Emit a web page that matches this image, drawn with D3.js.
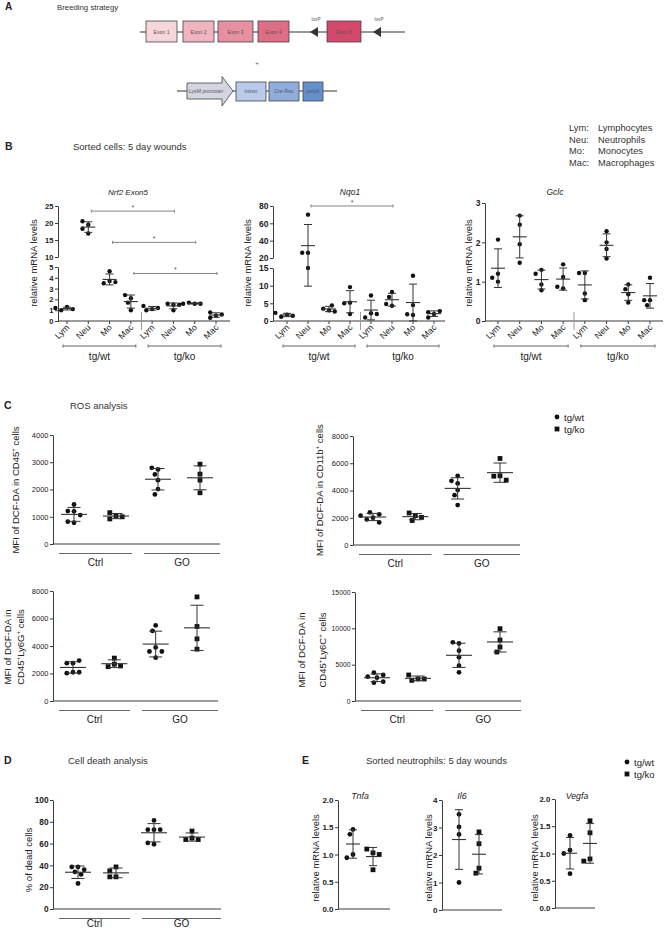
<!DOCTYPE html>
<html><head><meta charset="utf-8">
<script src="https://cdn.jsdelivr.net/npm/d3@7"></script>
<style>body{margin:0;background:#fff}svg{display:block}</style>
</head><body><svg id="fig" width="664" height="929"></svg>
<script>
// ---------------- DATA ----------------
const exonLabels = ["Exon 1","Exon 2","Exon 3","Exon 4","Exon 5"];
const creLabels = ["LysM promoter","intron","Cre-Rec","polyA"];
const cellTypes = ["Lym","Neu","Mo","Mac"];
const genotypes = ["tg/wt","tg/ko"];
const cellLegendAbbr = ["Lym:","Neu:","Mo:","Mac:"];
const cellLegendFull = ["Lymphocytes","Neutrophils","Monocytes","Macrophages"];
// order: tg/wt Lym, Neu, Mo, Mac, tg/ko Lym, Neu, Mo, Mac
const nrf2Exon5 = [[1.3,1.0,1.1,1.2],[19.5,20.5,18.3,16.9],[4.6,3.7,3.5,3.6],[2.1,2.4,1.7,1.0],
                   [1.1,1.0,1.2,1.4],[1.5,1.6,1.5,1.0],[1.6,1.7,1.6,1.6],[0.5,0.8,0.3,0.6]];
const nqo1 = [[1.8,1.2,1.5,2.3],[70,26,26,15],[3.0,3.5,4.4,2.7],[9.6,5.2,5.0,2.0],
              [7.2,2.2,1.0,2.0],[8.2,4.3,6.8,4.8],[12.8,4.5,1.7,1.9],[2.0,2.5,1.0,2.8]];
const gclc = [[2.07,1.0,1.1,1.2],[2.68,2.45,1.95,1.48],[1.3,1.2,0.78,0.93],[1.44,1.12,0.83,0.87],
              [1.22,1.22,0.7,0.53],[2.28,2.0,1.83,1.59],[0.93,0.81,0.68,0.47],[1.1,0.53,0.53,0.4]];
const nrf2TicksLow = [0,1,2,3,4,5], nrf2TicksHigh = [10,15,20,25];
const nqo1TicksLow = [0,5,10,15], nqo1TicksHigh = [20,40,60,80];
const gclcTicks = [0,1,2,3];
// significance brackets: [from index, to index, height value]
const nrf2Sig = [[1,5,23.5],[2,6,14.3],[3,7,4.4]];
const nqo1Sig = [[1,5,80]];

const treatments = ["Ctrl","GO"];
// order: Ctrl tg/wt, Ctrl tg/ko, GO tg/wt, GO tg/ko
const cd45 = [[1450,1200,1210,1060,780,820],[1030,920,1000,1150],[2735,2796,2552,2344,2015,1820],[2930,2564,2344,1880]];
const cd11b = [[2000,2390,1880,1660,2250,2150],[2150,2350,2030,1800],[5080,4520,4710,4030,3660,2930],[6350,5080,5050,4760]];
const ly6g = [[2750,2750,2940,2090,2020,2090],[3120,2680,2500,2550],[5500,5100,3900,3600,3600,3150],[7570,5420,4520,3770]];
const ly6c = [[3210,3900,3580,3350,2520,2660],[3030,2840,3030,3580],[7930,8070,6920,6010,4860,3940],[9950,8390,7430,6740]];
const cd45Ticks = [0,1000,2000,3000,4000];
const cd11bTicks = [0,2000,4000,6000,8000];
const ly6gTicks = [0,2000,4000,6000,8000];
const ly6cTicks = [0,5000,10000,15000];
const deadCells = [[38.6,38.6,34,36,31.7,23.4],[38.6,35,29.5,29.5],[81.3,72.8,72.8,72.8,59.4,60.6],[71.5,65.1,63.7,63.7]];
const deadTicks = [0,20,40,60,80,100];
// order: tg/wt, tg/ko
const tnfa = [[1.46,1.37,1.0,0.94],[1.03,1.1,1.0,0.72]];
const il6 = [[3.48,3.02,2.75,1.0],[2.84,2.41,1.52,1.34]];
const vegfa = [[1.33,1.06,1.0,0.63],[1.6,1.38,0.9,0.86]];
const tnfaTicks = [0,0.5,1,1.5,2], il6Ticks = [0,1,2,3,4], vegfaTicks = [0,0.5,1,1.5,2];

// ---------------- STYLE ----------------
const FONT = '"Liberation Sans", Arial, Helvetica, sans-serif';
const AX = "#3a3a3a", TXT = "#222", BAR = "#333", GRP = "#666";
const exonColors = ["#f6d6db","#efb4bf","#e690a2","#de6d85","#d4496b"];
const creColors = ["#d3d6e1","#b8cbea","#8eadde","#6391cf"];

const svg = d3.select("#fig").attr("font-family", FONT);

function txt(x, y, s, o = {}) {
  return svg.append("text").attr("x", x).attr("y", y).text(s)
    .attr("font-size", o.fs || 8).attr("fill", o.fill || TXT)
    .attr("text-anchor", o.anchor || "start")
    .attr("font-weight", o.bold ? "bold" : "normal")
    .attr("font-style", o.italic ? "italic" : "normal");
}
// rotated label with optional superscripts: parts = [[text, sup], ...]
function yLabel(x, cy, parts, fs = 9.5) {
  const t = svg.append("text").attr("x", x).attr("y", cy)
    .attr("transform", `rotate(-90,${x},${cy})`).attr("text-anchor", "middle")
    .attr("font-size", fs).attr("fill", TXT);
  let prevSup = false;
  parts.forEach(([s, sup]) => {
    const ts = t.append("tspan").text(s);
    if (sup) ts.attr("font-size", fs * 0.65).attr("dy", -fs * 0.4);
    else if (prevSup) ts.attr("dy", fs * 0.4);
    prevSup = sup;
  });
  return t;
}
function yAxis(scale, ticks, x, o = {}) {
  const ax = d3.axisLeft(scale).tickValues(ticks).tickSize(3).tickSizeOuter(0)
    .tickPadding(1.5).tickFormat(o.fmt || (d => d));
  const a = svg.append("g").attr("transform", `translate(${x},0)`).call(ax);
  a.selectAll("path,line").attr("stroke", AX);
  a.selectAll("text").attr("font-size", o.fs || 7.5).attr("fill", TXT)
    .attr("font-family", FONT).attr("font-weight", o.bold ? "bold" : "normal");
}
function hline(x1, x2, y, c = AX, w = 1) {
  svg.append("line").attr("x1", x1).attr("x2", x2).attr("y1", y).attr("y2", y).attr("stroke", c).attr("stroke-width", w);
}
function vline(x, y1, y2, c = AX, w = 1) {
  svg.append("line").attr("x1", x).attr("x2", x).attr("y1", y1).attr("y2", y2).attr("stroke", c).attr("stroke-width", w);
}
function swarm(ys, r) {
  const step = 2 * r + 1.4, cands = [0];
  for (let k = 1; k < 8; k++) cands.push(-k * step / 2, k * step / 2);
  const placed = [];
  return ys.map(y => {
    let best = 0;
    for (const c of cands) {
      if (placed.every(p => Math.hypot(p.x - c, p.y - y) >= 2 * r + 0.8)) { best = c; break; }
    }
    placed.push({ x: best, y }); return best;
  });
}
function drawGroup(cx, vals, yf, square, r, meanHalf, capHalf) {
  const m = d3.mean(vals), s = d3.deviation(vals);
  const ys = vals.map(yf), dx = swarm(ys, r);
  vals.forEach((v, i) => {
    if (square) svg.append("rect").attr("x", cx + dx[i] - r).attr("y", ys[i] - r)
      .attr("width", 2 * r).attr("height", 2 * r).attr("fill", "#111");
    else svg.append("circle").attr("cx", cx + dx[i]).attr("cy", ys[i]).attr("r", r).attr("fill", "#111");
  });
  const yt = yf(m + s), yb = yf(Math.max(0, m - s));
  vline(cx, yt, yb, BAR, 1);
  hline(cx - capHalf, cx + capHalf, yt, BAR, 1);
  hline(cx - capHalf, cx + capHalf, yb, BAR, 1);
  hline(cx - meanHalf, cx + meanHalf, yf(m), BAR, 1.1);
}
function brokenY(lowDom, lowRange, highDom, highRange) {
  const lo = d3.scaleLinear().domain(lowDom).range(lowRange);
  const hi = highDom ? d3.scaleLinear().domain(highDom).range(highRange) : null;
  const f = v => {
    if (!hi || v <= lowDom[1]) return lo(v);
    if (v >= highDom[0]) return hi(v);
    const t = (v - lowDom[1]) / (highDom[0] - lowDom[1]);
    return lowRange[1] + t * (highRange[0] - lowRange[1]);
  };
  f.lo = lo; f.hi = hi; return f;
}

// ---------------- PANEL A ----------------
txt(5, 10, "A", { fs: 10, bold: true });
txt(57, 10, "Breeding strategy", { fs: 7.8, fill: "#333" });
{
  hline(140, 405, 32, "#333", 1);
  const exonSpans = [[146, 177], [183, 214], [218, 253], [258, 289], [327, 361]];
  exonSpans.forEach(([a, b], i) => {
    svg.append("rect").attr("x", a).attr("y", 21).attr("width", b - a).attr("height", 21)
      .attr("fill", exonColors[i]).attr("stroke", "#444").attr("stroke-width", 0.8);
    txt((a + b) / 2, 34, exonLabels[i], { fs: 5.2, anchor: "middle", fill: "#555" });
  });
  [310, 373].forEach(tx => {
    svg.append("path").attr("d", `M${tx},32 L${tx + 8},27 L${tx + 8},37 Z`).attr("fill", "#333");
    txt(tx + 6, 21, "loxP", { fs: 4.6, anchor: "middle", fill: "#555" });
  });
  txt(257, 65, "+", { fs: 6, anchor: "middle", fill: "#555" });
  hline(177, 337, 91, "#333", 1);
  svg.append("path").attr("d", "M187,83 L222,83 L222,76.5 L233,91 L222,106 L222,99 L187,99 Z")
    .attr("fill", creColors[0]).attr("stroke", "#444").attr("stroke-width", 0.8);
  txt(206, 93, creLabels[0], { fs: 5.2, anchor: "middle", fill: "#555" });
  const creSpans = [[236, 266], [269, 299], [303, 323]];
  creSpans.forEach(([a, b], i) => {
    svg.append("rect").attr("x", a).attr("y", 82).attr("width", b - a).attr("height", 19)
      .attr("fill", creColors[i + 1]).attr("stroke", "#444").attr("stroke-width", 0.8);
    txt((a + b) / 2, 93, creLabels[i + 1], { fs: 5.2, anchor: "middle", fill: "#555" });
  });
}

// ---------------- PANEL B ----------------
txt(5, 150, "B", { fs: 10.5, bold: true });
txt(73, 150, "Sorted cells: 5 day wounds", { fs: 9.5, fill: "#333" });
cellLegendAbbr.forEach((a, i) => {
  txt(569, 131 + i * 11.7, a, { fs: 9.3, fill: "#333" });
  txt(598, 131 + i * 11.7, cellLegendFull[i], { fs: 9.3, fill: "#333" });
});

function drawBChart(spec) {
  const base = 321;
  const x = d3.scalePoint().domain(d3.range(8)).range(spec.xRange);
  spec.axes.forEach(a => yAxis(a.scale, a.ticks, spec.x0, { bold: true, fs: spec.tickFs || 8.5 }));
  hline(spec.x0, spec.xEnd, base);
  d3.range(8).forEach(i => {
    vline(x(i), base, base + 3);
    svg.append("text").attr("transform", `translate(${x(i) + 3},${base + 7}) rotate(-45)`)
      .attr("text-anchor", "end").attr("font-size", 8.8).attr("fill", TXT)
      .text(cellTypes[i % 4]);
  });
  const sep = (x(3) + x(4)) / 2;
  vline(sep, base - 9, base + 9, "#999", 1);
  genotypes.forEach((gname, gi) => {
    const a = x(gi * 4) - 4, b = x(gi * 4 + 3) + 5;
    hline(a, b, 346, GRP, 1);
    vline(a, 344.5, 347.5, GRP, 1); vline(b, 344.5, 347.5, GRP, 1);
    txt((a + b) / 2, 359.5, gname, { fs: 10, anchor: "middle" });
  });
  (spec.sig || []).forEach(([i, j, v]) => {
    const y = spec.y(v), a = x(i) + 3, b = x(j) + 1;
    hline(a, b, y, "#777", 0.9);
    vline(a, y - 1.5, y + 1.5, "#777", 0.9); vline(b, y - 1.5, y + 1.5, "#777", 0.9);
    txt((a + b) / 2, y - 1.5, "*", { fs: 7, anchor: "middle", fill: "#555" });
  });
  spec.data.forEach((vals, i) => drawGroup(x(i), vals, spec.y, false, 2.2, 7, 4));
  txt(spec.titleX, 195, spec.title, { fs: spec.titleFs, anchor: "middle", italic: true });
  yLabel(spec.labelX, 263, [["relative mRNA levels", false]]);
}

{
  const y = brokenY([0, 5], [321, 267], [10, 25], [257, 206]);
  drawBChart({ x0: 58, xEnd: 230, xRange: [67, 216], y, data: nrf2Exon5, sig: nrf2Sig, tickFs: 7.6,
    axes: [{ scale: y.lo, ticks: nrf2TicksLow }, { scale: y.hi, ticks: nrf2TicksHigh }],
    title: "Nrf2 Exon5", titleX: 128, titleFs: 8, labelX: 37 });
}
{
  const y = brokenY([0, 15], [321, 268], [20, 80], [258, 206]);
  drawBChart({ x0: 273, xEnd: 445, xRange: [287, 434], y, data: nqo1, sig: nqo1Sig,
    axes: [{ scale: y.lo, ticks: nqo1TicksLow }, { scale: y.hi, ticks: nqo1TicksHigh }],
    title: "Nqo1", titleX: 350, titleFs: 8.5, labelX: 251 });
}
{
  const y = brokenY([0, 3], [321, 203]);
  drawBChart({ x0: 485, xEnd: 663, xRange: [498, 650], y, data: gclc,
    axes: [{ scale: y.lo, ticks: gclcTicks }],
    title: "Gclc", titleX: 555, titleFs: 8.5, labelX: 472 });
}

// ---------------- PANEL C & D ----------------
txt(4, 409, "C", { fs: 10.5, bold: true });
txt(70, 409, "ROS analysis", { fs: 9.5, fill: "#333" });
function legend2(x, y) {
  svg.append("circle").attr("cx", x).attr("cy", y).attr("r", 2.4).attr("fill", "#111");
  svg.append("rect").attr("x", x - 2.4).attr("y", y + 12 - 2.4).attr("width", 4.8).attr("height", 4.8).attr("fill", "#111");
  txt(x + 7, y + 3.5, genotypes[0], { fs: 9.5 });
  txt(x + 7, y + 15.5, genotypes[1], { fs: 9.5 });
}
legend2(557, 417);

function drawTreatChart(spec) {
  const y = d3.scaleLinear().domain([0, spec.max]).range(spec.yRange);
  yAxis(y, spec.ticks, spec.x0, { bold: spec.bold, fs: spec.tickFs || 7.5 });
  hline(spec.x0, spec.xEnd, spec.yRange[0]);
  const x = d3.scalePoint().domain(d3.range(4)).range(spec.xRange);
  const mid = (x(1) + x(2)) / 2;
  const gy = spec.yRange[0] + 9.5;
  const spans = [[spec.x0 + 6, mid - 5], [mid + 7, spec.xEnd]];
  treatments.forEach((t, i) => {
    hline(spans[i][0], spans[i][1], gy, GRP, 1);
    txt((spans[i][0] + spans[i][1]) / 2, spec.labelBase || gy + 12.5, t, { fs: 10, anchor: "middle" });
  });
  spec.data.forEach((vals, i) => drawGroup(x(i), vals, y, i % 2 === 1, 2.4, 13, 6.5));
  spec.labels.forEach(l => yLabel(l.x, spec.labelY, l.parts));
}
drawTreatChart({ x0: 53, xEnd: 220, yRange: [544, 435], max: 4000, ticks: cd45Ticks, xRange: [74, 200], data: cd45,
  labelY: 490, labels: [{ x: 19, parts: [["MFI of DCF-DA in CD45", false], ["+", true], [" cells", false]] }] });
drawTreatChart({ x0: 353, xEnd: 520, yRange: [545, 436], max: 8000, ticks: cd11bTicks, xRange: [373, 500], data: cd11b,
  labelY: 490, labels: [{ x: 323, parts: [["MFI of DCF-DA in CD11b", false], ["+", true], [" cells", false]] }] });
drawTreatChart({ x0: 53, xEnd: 218, yRange: [701, 591], max: 8000, ticks: ly6gTicks, xRange: [73, 197], data: ly6g,
  labelY: 647, labels: [{ x: 11, parts: [["MFI of DCF-DA in", false]] },
    { x: 24, parts: [["CD45", false], ["+", true], ["Ly6G", false], ["+", true], [" cells", false]] }] });
drawTreatChart({ x0: 355, xEnd: 521, yRange: [701, 592], max: 15000, ticks: ly6cTicks, tickFs: 6.8, xRange: [377, 500], data: ly6c,
  labelY: 650, labels: [{ x: 305, parts: [["MFI of DCF-DA in", false]] },
    { x: 326, parts: [["CD45", false], ["+", true], ["Ly6C", false], ["+", true], [" cells", false]] }] });

txt(4, 764, "D", { fs: 10.5, bold: true });
txt(68, 764, "Cell death analysis", { fs: 9.5, fill: "#333" });
drawTreatChart({ x0: 53, xEnd: 221, yRange: [909, 800], max: 100, ticks: deadTicks, tickFs: 8.3, xRange: [78, 192], data: deadCells, bold: true,
  labelY: 860, labelBase: 926.5, labels: [{ x: 32, parts: [["% of dead cells", false]] }] });

// ---------------- PANEL E ----------------
txt(302, 764, "E", { fs: 10.5, bold: true });
txt(366, 764, "Sorted neutrophils: 5 day wounds", { fs: 9.5, fill: "#333" });
legend2(627, 762);
function drawEChart(spec) {
  const y = d3.scaleLinear().domain([0, spec.max]).range(spec.yRange);
  yAxis(y, spec.ticks, spec.x0, { bold: true, fs: 8, fmt: spec.fmt });
  hline(spec.x0, spec.xEnd, spec.yRange[0]);
  const x = d3.scalePoint().domain(d3.range(2)).range(spec.xRange);
  spec.data.forEach((vals, i) => drawGroup(x(i), vals, y, i === 1, 2.4, 7, 4));
  txt(spec.titleX, 799, spec.title, { fs: 8.8, anchor: "middle", italic: true });
  yLabel(spec.labelX, 858, [["relative mRNA levels", false]]);
}
drawEChart({ x0: 338, xEnd: 390, yRange: [909, 800], max: 2, ticks: tnfaTicks, fmt: d3.format(".1f"), xRange: [353, 373], data: tnfa, title: "Tnfa", titleX: 360, labelX: 319 });
drawEChart({ x0: 442, xEnd: 502, yRange: [910, 800], max: 4, ticks: il6Ticks, fmt: d3.format("d"), xRange: [459, 479], data: il6, title: "Il6", titleX: 462, labelX: 432 });
drawEChart({ x0: 555, xEnd: 595, yRange: [908, 799], max: 2, ticks: vegfaTicks, fmt: d3.format(".1f"), xRange: [570, 590], data: vegfa, title: "Vegfa", titleX: 577, labelX: 538 });
</script></body></html>
